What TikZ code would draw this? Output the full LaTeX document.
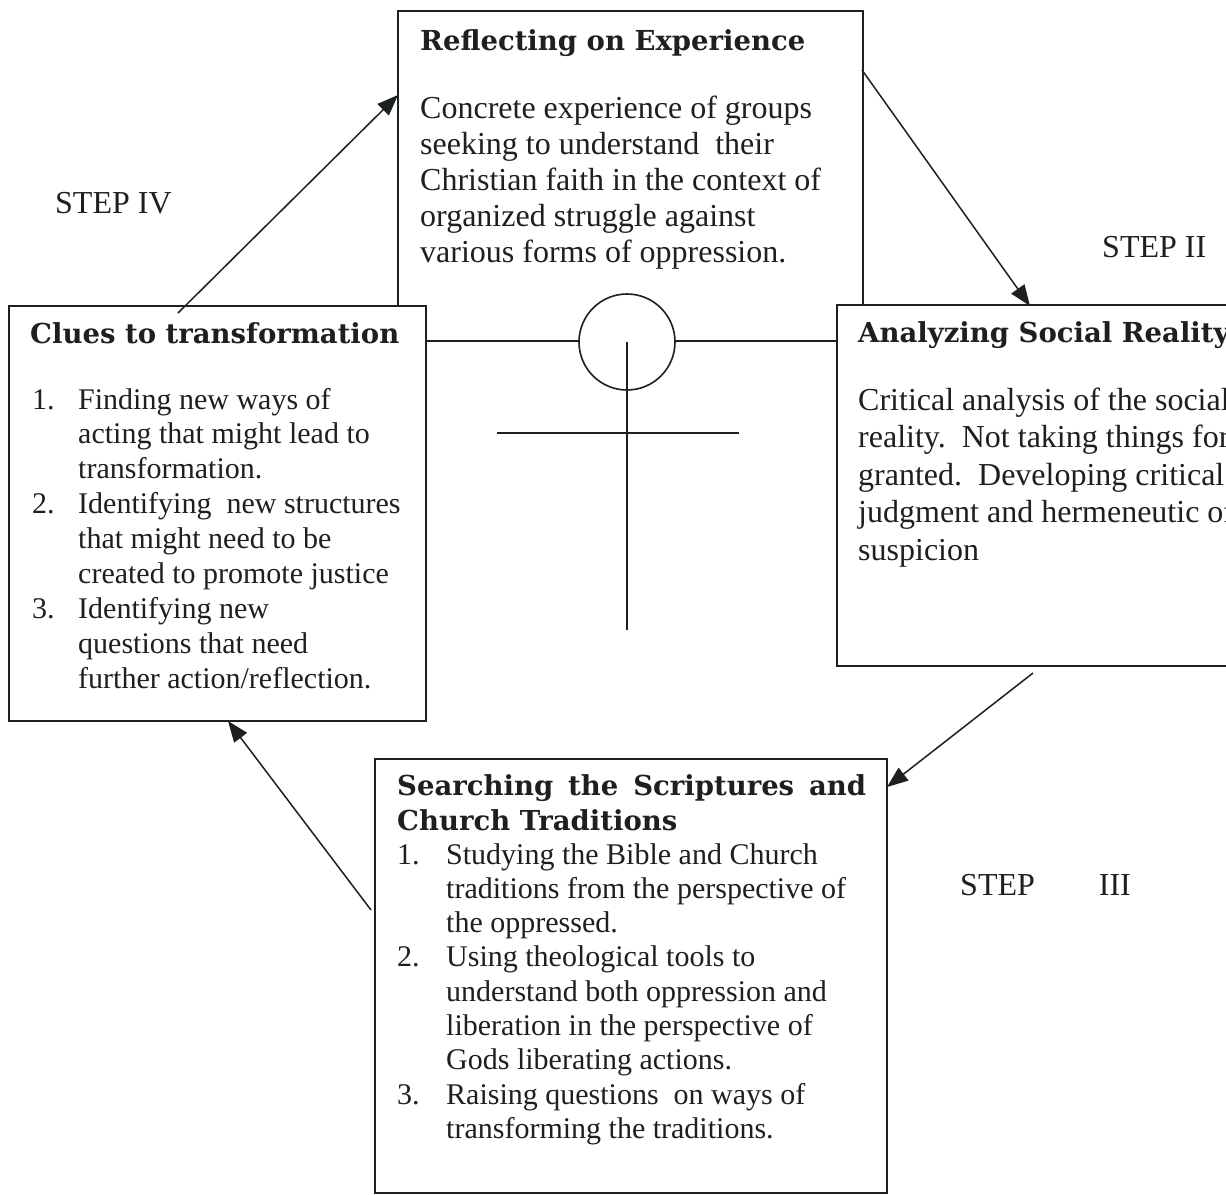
\documentclass[tikz,border=0pt]{standalone}
\usepackage{fontspec}
\setmainfont{Liberation Serif}
\newfontfamily\headfont{DejaVu Serif}
\usetikzlibrary{arrows.meta}
\definecolor{ink}{RGB}{28,32,30}
\begin{document}
\begin{tikzpicture}[x=1pt,y=-1pt,
  box/.style={draw=ink, line width=1.8pt, fill=white, inner sep=0pt, anchor=north west},
  ln/.style={inner sep=0pt, anchor=base west, text=ink},
  bodyA/.style={ln, font=\fontsize{32}{36}\selectfont},
  bodyB/.style={ln, font=\fontsize{30}{34}\selectfont},
  head/.style={ln, font=\headfont\bfseries\fontsize{27.5}{32}\selectfont},
  conn/.style={draw=ink, line width=1.5pt, -{Triangle[length=21pt,width=16pt]}},
  plain/.style={draw=ink, line width=1.6pt},
  steplabel/.style={ln, font=\fontsize{32}{36}\selectfont},
]
\useasboundingbox (0,0) rectangle (1226,1194);
\clip (0,0) rectangle (1226,1194);
\fill[white] (0,0) rectangle (1226,1194);

% boxes
\node[box, minimum width=465pt, minimum height=330pt] (top) at (397,10) {};
\node[draw=ink, line width=1.6pt, fill=white, circle, minimum size=96pt, inner sep=0pt] (circ) at (627,342) {};
\coordinate (crossbot) at (627,630);
\draw[plain] (circ.center) -- (crossbot);
\coordinate (barL) at (497,433);
\coordinate (barR) at (739,433);
\draw[plain] (barL) -- (barR);
\node[box, minimum width=417pt, minimum height=415pt] (left) at (8,305) {};
\node[box, minimum width=500pt, minimum height=361pt] (right) at (836,304) {};
\node[box, minimum width=512pt, minimum height=434pt] (bottom) at (374,758) {};

% top box text
\node[head] (topH) at (420,50) {Reflecting on Experience};
\foreach \t [count=\i] in {Concrete experience of groups, seeking to understand\ \ their, Christian faith in the context of, organized struggle against, various forms of oppression.}
  \node[bodyA] (top-\i) at (420,{118+36.2*(\i-1)}) {\t};

% left box text
\node[head] (leftH) at (30,343) {Clues to transformation};
\foreach \n/\k in {1./0, 2./3, 3./6}
  \node[bodyB] (left-n\k) at (32,{409+34.9*\k}) {\n};
\foreach \t [count=\i] in {Finding new ways of, acting that might lead to, transformation., Identifying\ \ new structures, that might need to be, created to promote justice, Identifying new, questions that need, {further action/reflection.}}
  \node[bodyB] (left-\i) at (78,{409+34.9*(\i-1)}) {\t};

% right box text
\node[head] (rightH) at (858,342) {Analyzing Social Reality};
\foreach \t [count=\i] in {Critical analysis of the social, reality.\ \ Not taking things for, granted.\ \ Developing critical, judgment and hermeneutic of, suspicion}
  \node[bodyA] (right-\i) at (858,{410+37.5*(\i-1)}) {\t};

% bottom box text
\node[head] (botH1) at (397,795) {\makebox[469pt][s]{Searching\hfill the\hfill Scriptures\hfill and}};
\node[head] (botH2) at (397,830) {Church Traditions};
\foreach \n/\k in {1./0, 2./3, 3./7}
  \node[bodyB] (bot-n\k) at (397,{864+34.3*\k}) {\n};
\foreach \t [count=\i] in {Studying the Bible and Church, traditions from the perspective of, the oppressed., Using theological tools to, understand both oppression and, liberation in the perspective of, Gods liberating actions., Raising questions\ \ on ways of, transforming the traditions.}
  \node[bodyB] (bot-\i) at (446,{864+34.3*(\i-1)}) {\t};

% step labels
\node[steplabel] (step4) at (55,213) {STEP IV};
\node[steplabel] (step2) at (1102,257) {STEP II};
\node[steplabel] (step3) at (960,895) {STEP\hspace{64pt}III};

% connectors
\coordinate (a4s) at (178,313);
\coordinate (a4e) at (398,95);
\coordinate (a2s) at (862,70);
\coordinate (a2e) at (1030,306);
\coordinate (a3s) at (1033,673);
\coordinate (a3e) at (887,787);
\coordinate (a1s) at (371,910);
\coordinate (a1e) at (228,721);
\draw[conn] (a4s) -- (a4e);
\draw[conn] (a2s) -- (a2e);
\draw[conn] (a3s) -- (a3e);
\draw[conn] (a1s) -- (a1e);
\end{tikzpicture}
\end{document}
